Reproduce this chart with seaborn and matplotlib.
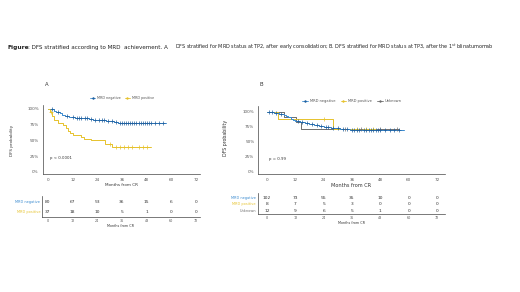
import numpy as np
import pandas as pd
import seaborn as sns
import matplotlib.pyplot as plt
from matplotlib.lines import Line2D

# ---- data ----
months = [0, 12, 24, 36, 48, 60, 72]

# Panel A (MRD at TP2)
a_neg_t = [0, 3, 4, 6, 7, 8, 10, 13, 17, 20, 22, 24, 28, 30, 32, 34, 57.5]
a_neg_s = [100, 97, 95, 93, 90, 88, 87, 86, 85, 84, 83, 82, 81, 80, 79, 78, 78]
a_neg_cens = [2, 5, 9, 12, 14, 15, 16, 18, 19, 21, 23, 25, 26, 27, 29, 31, 33, 35, 36,
              37, 38, 39, 40, 41, 42, 43, 44, 45, 46, 47, 48, 49, 50, 52, 54, 56]
a_pos_t = [0, 1, 2, 3, 5, 7.5, 8.5, 9.5, 10.5, 12, 16, 17.5, 21, 27.5, 31, 50]
a_pos_s = [100, 95, 88, 82, 77, 75, 70, 65, 61, 58, 55, 52, 50, 45, 39, 39]
a_pos_cens = [1.5, 30, 33, 35, 37, 39, 41, 44, 46, 48]
a_risk_neg = [80, 67, 53, 36, 15, 6, 0]
a_risk_pos = [37, 18, 10, 5, 1, 0, 0]

# Panel B (MRD at TP3)
b_neg_t = [0, 3, 5, 7, 8, 9, 10, 11, 12, 14, 16, 18, 20, 22, 24, 27, 29, 31, 33, 35, 40, 58]
b_neg_s = [100, 98, 97, 95, 93, 91, 89, 87, 85, 83, 82, 80, 78, 76, 75, 74, 73, 72, 71, 70, 69, 69]
b_neg_cens = [1, 2, 4, 6, 13, 15, 17, 19, 21, 23, 25, 26, 28, 30, 32, 34, 36, 37, 38, 39,
              41, 42, 43, 44, 45, 46, 47, 48, 50, 52, 54, 56]
b_pos_t = [0, 4.5, 28, 46]
b_pos_s = [100, 87.5, 72, 72]
b_pos_cens = [24, 38, 42, 45]
b_unk_t = [0, 7, 12.5, 14.5, 56]
b_unk_s = [100, 91.7, 83.3, 72, 72]
b_unk_cens = [33, 40, 48, 55]
b_risk_neg = [102, 73, 55, 35, 10, 0, 0]
b_risk_pos = [8, 7, 5, 3, 0, 0, 0]
b_risk_unk = [12, 9, 6, 5, 1, 0, 0]

BLUE = "#3a8bd0"
BLUE_DK = "#1f5f9e"
YELLOW = "#e6c22c"
GREY = "#6e6e6e"
TXT = "#555555"

sns.set_theme(style="white")
plt.rcParams['font.family'] = ['DejaVu Sans']

W, H = 520, 292
fig = plt.figure(figsize=(W / 100, H / 100), dpi=100)


def rect(x0, y0, x1, y1):
    return [x0 / W, 1 - y1 / H, (x1 - x0) / W, (y1 - y0) / H]


def surv_at(t, times, surv):
    i = np.searchsorted(times, t, side='right') - 1
    return surv[max(i, 0)]


def km(ax, times, surv, cens, color, mcolor):
    df = pd.DataFrame({'t': times, 's': surv})
    sns.lineplot(data=df, x='t', y='s', ax=ax, color=color, lw=0.7,
                 drawstyle='steps-post', estimator=None, sort=False)
    cdf = pd.DataFrame({'t': cens, 's': [surv_at(c, times, surv) for c in cens]})
    sns.scatterplot(data=cdf, x='t', y='s', ax=ax, color=mcolor, marker='+',
                    s=5, linewidth=0.5, zorder=3)


def style_main(ax, xlim, ylim, xl_size):
    ax.set_xlim(*xlim)
    ax.set_ylim(*ylim)
    ax.set_xticks(months)
    ax.set_yticks([0, 25, 50, 75, 100])
    ax.set_yticklabels(['0%', '25%', '50%', '75%', '100%'])
    ax.set_xlabel('Months from CR', fontsize=xl_size, color='#333333', labelpad=1)
    ax.set_ylabel('')
    ax.tick_params(labelsize=3, colors=TXT, length=1.2, width=0.4, pad=1.5)
    sns.despine(ax=ax)
    for sp in ['left', 'bottom']:
        ax.spines[sp].set_linewidth(0.5)
        ax.spines[sp].set_color('#444444')


def style_risk(ax, xlim, ylim, rows, labels, colors, xl_size):
    for r, (vals, lab, col) in enumerate(zip(rows, labels, colors)):
        y = len(rows) - r
        for m, v in zip(months, vals):
            ax.text(m, y, str(v), ha='center', va='center', fontsize=3.2, color='#333333')
        ax.text(-0.012, y, lab, transform=ax.get_yaxis_transform(), ha='right',
                va='center', fontsize=2.5, color=col)
    ax.set_xlim(*xlim)
    ax.set_ylim(*ylim)
    ax.set_xticks(months)
    ax.set_yticks([])
    ax.set_xlabel('Months from CR', fontsize=xl_size, color='#333333', labelpad=0.5)
    ax.tick_params(labelsize=2.4, colors=TXT, length=0, pad=1.5)
    sns.despine(ax=ax)
    for sp in ['left', 'bottom']:
        ax.spines[sp].set_linewidth(0.5)
        ax.spines[sp].set_color('#444444')


# ---- title ----
fig.text(8 / W, 1 - 47 / H, 'Figure', fontsize=4.2, fontweight='bold', va='center', color='#222222')
fig.text(28 / W, 1 - 47 / H, ': DFS stratified according to MRD  achievement. A', fontsize=4.1,
         va='center', color='#222222')
fig.text(175 / W, 1 - 47 / H,
         'DFS stratified for MRD status at TP2, after early consolidation; '
         'B. DFS stratified for MRD status at TP3, after the 1$^{st}$ blinatumomab',
         fontsize=3.55, va='center', color='#222222')

# ---- panel A ----
axA = fig.add_axes(rect(42.5, 105, 200, 174))
km(axA, a_neg_t, a_neg_s, a_neg_cens, BLUE, BLUE_DK)
km(axA, a_pos_t, a_pos_s, a_pos_cens, YELLOW, YELLOW)
style_main(axA, (-2.7, 73.9), (-3.2, 106), 3)
axA.text(1, 22, 'p < 0.0001', fontsize=2.8, color='#333333', va='center')
fig.text(45 / W, 1 - 85 / H, 'A', fontsize=3.8, color='#333333', va='center')
fig.text(12 / W, 1 - 140 / H, 'DFS probability', rotation=90, fontsize=3, color='#333333',
         ha='center', va='center')
hA = [Line2D([], [], color=BLUE, marker='+', mec=BLUE_DK, ms=2, lw=0.6),
      Line2D([], [], color=YELLOW, marker='+', ms=2, lw=0.6)]
fig.legend(hA, ['MRD negative', 'MRD positive'], loc='center', bbox_to_anchor=(122 / W, 1 - 98 / H),
           ncol=2, frameon=False, fontsize=2.4, handlelength=1.6, columnspacing=1.2,
           handletextpad=0.5, labelcolor='#555555')

rA = fig.add_axes(rect(42, 196, 200, 217))
style_risk(rA, (-2.7, 73.9), (0.5, 2.6), [a_risk_neg, a_risk_pos],
           ['MRD negative', 'MRD positive'], [BLUE, YELLOW], 2.4)

# ---- panel B ----
axB = fig.add_axes(rect(258, 106, 445, 174))
km(axB, b_unk_t, b_unk_s, b_unk_cens, GREY, GREY)
km(axB, b_pos_t, b_pos_s, b_pos_cens, YELLOW, YELLOW)
km(axB, b_neg_t, b_neg_s, b_neg_cens, BLUE, BLUE_DK)
style_main(axB, (-3.8, 75.4), (-3.8, 110), 3.6)
axB.text(1, 22, 'p = 0.99', fontsize=2.8, color='#333333', va='center')
fig.text(259 / W, 1 - 85 / H, 'B', fontsize=3.8, color='#333333', va='center')
fig.text(226 / W, 1 - 138 / H, 'DFS probability', rotation=90, fontsize=3.4, color='#333333',
         ha='center', va='center')
hB = [Line2D([], [], color=BLUE, marker='+', mec=BLUE_DK, ms=2, lw=0.6),
      Line2D([], [], color=YELLOW, marker='+', ms=2, lw=0.6),
      Line2D([], [], color=GREY, marker='+', ms=2, lw=0.6)]
fig.legend(hB, ['MRD negative', 'MRD positive', 'Unknown'], loc='center',
           bbox_to_anchor=(352 / W, 1 - 101 / H), ncol=3, frameon=False, fontsize=2.6,
           handlelength=1.6, columnspacing=1.4, handletextpad=0.5, labelcolor='#555555')

rB = fig.add_axes(rect(258, 193, 445, 214))
style_risk(rB, (-3.8, 75.4), (0.556, 3.67), [b_risk_neg, b_risk_pos, b_risk_unk],
           ['MRD negative', 'MRD positive', 'Unknown'], [BLUE, YELLOW, GREY], 2.4)

fig.savefig('out.png', dpi=100)
